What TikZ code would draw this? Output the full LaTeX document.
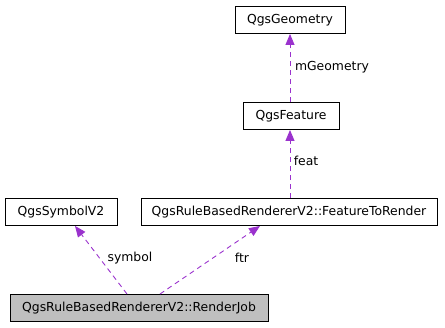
\documentclass[tikz,border=0pt]{standalone}
\usepackage{fontspec}
\setmainfont{DejaVu Sans}
\usetikzlibrary{arrows.meta}
\definecolor{edgepurple}{HTML}{9A32CD}
\begin{document}
\begin{tikzpicture}[x=1pt,y=-1pt,
  cls/.style={draw=black, line width=0.9pt, fill=white, inner sep=0pt, minimum height=27pt, font=\fontsize{12.4}{14}\selectfont},
  focus/.style={cls, fill=black!25},
  member/.style={draw=edgepurple, line width=0.9pt, dash pattern=on 5pt off 4pt, -{Triangle[length=11pt,width=9pt]}},
  lbl/.style={font=\fontsize{12.4}{14}\selectfont, inner sep=1pt}]
  \useasboundingbox (0,0) rectangle (445,328);
  \node[cls, minimum width=110pt] (geom) at (290,20) {QgsGeometry};
  \node[cls, minimum width=96pt] (feat) at (291,116) {QgsFeature};
  \node[cls, minimum width=112pt] (sym) at (61,212) {QgsSymbolV2};
  \node[cls, minimum width=296pt] (ftr) at (289,212) {QgsRuleBasedRendererV2::FeatureToRender};
  \node[focus, minimum width=258pt] (job) at (139,308) {QgsRuleBasedRendererV2::RenderJob};
  \coordinate (jobL) at (127,294);
  \coordinate (jobR) at (160,294);
  \draw[member] (jobL) -- (sym.south -| 75,0);
  \draw[member] (jobR) -- (ftr.south -| 260,0);
  \draw[member] (ftr.north -| 290,0) -- (feat.south -| 290,0);
  \draw[member] (feat.north -| 290,0) -- (geom.south -| 290,0);
  \node[lbl] (lsym) at (130,258) {symbol};
  \node[lbl] (lftr) at (242,258) {ftr};
  \node[lbl] (lfeat) at (306,161) {feat};
  \node[lbl] (lgeom) at (332,67) {mGeometry};
\end{tikzpicture}
\end{document}
